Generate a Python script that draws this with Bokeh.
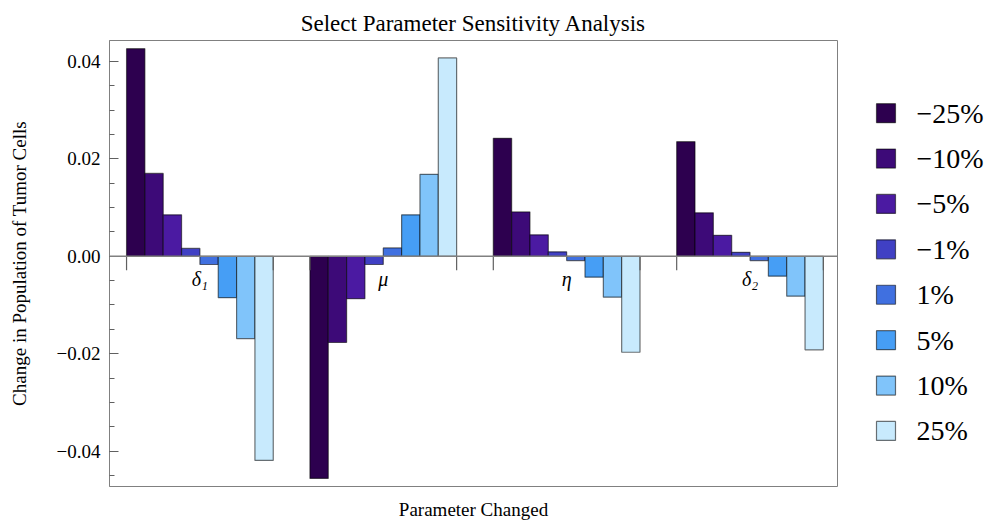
from bokeh.plotting import figure
from bokeh.models import ColumnDataSource, FixedTicker, Range1d, Span
from bokeh.layouts import row
from bokeh.core.properties import value
from bokeh.embed import file_html
from bokeh.resources import INLINE

# ---- data ----
params = ["δ₁", "μ", "η", "δ₂"]
changes = ["−25%", "−10%", "−5%", "−1%", "1%", "5%", "10%", "25%"]
m25 = [0.0426, -0.0456, 0.0242, 0.0235]
m10 = [0.0170, -0.0177, 0.0091, 0.0089]
m5 = [0.0085, -0.0087, 0.0044, 0.0043]
m1 = [0.0016, -0.0017, 0.0009, 0.0008]
p1 = [-0.0017, 0.0017, -0.0009, -0.0009]
p5 = [-0.0085, 0.0085, -0.0043, -0.0041]
p10 = [-0.0169, 0.0168, -0.0084, -0.0082]
p25 = [-0.0419, 0.0407, -0.0197, -0.0192]
series = [m25, m10, m5, m1, p1, p5, p10, p25]
colors = ["#2d004f", "#3d0a78", "#4b1aa2", "#4040c4", "#4070e0", "#469ef5", "#80c4fa", "#c8eafd"]
y_ticks = [-0.04, -0.02, 0.0, 0.02, 0.04]
y_tick_labels = ["−0.04", "−0.02", "0.00", "0.02", "0.04"]

FONT = "Liberation Serif"
n_ser = len(series)
spacing = n_ser + 2
W, H = 987, 522
W1 = 847
TOP, BOTTOM = 40, 488

p = figure(width=W1, height=H, output_backend="svg", toolbar_location=None,
           x_range=Range1d(-0.93, (len(params) - 1) * spacing + n_ser + 0.77),
           y_range=Range1d(-0.04725, 0.04427),
           min_border_left=109, min_border_right=W1 - 837, min_border_top=TOP,
           min_border_bottom=H - BOTTOM,
           title="Select Parameter Sensitivity Analysis")
p.title.align = "center"
p.title.text_font = FONT
p.title.text_font_size = "23px"
p.title.text_font_style = "normal"
p.title.text_color = "black"

p.grid.visible = False
p.outline_line_color = "#808080"
p.outline_line_width = 1

# zero line
p.add_layout(Span(location=0, dimension="width", line_color="#808080", line_width=1.5))

for i, (vals, col) in enumerate(zip(series, colors)):
    xs = [spacing * g + i + 0.5 for g in range(len(params))]
    src = ColumnDataSource(dict(x=xs, top=vals))
    p.vbar(x="x", top="top", bottom=0, width=1.0, source=src,
           fill_color=col, line_color="black", line_alpha=0.55, line_width=1.2)

# group edge ticks at zero line
edges = []
for g in range(len(params)):
    edges += [spacing * g, spacing * g + n_ser]
p.segment(x0=edges, x1=edges, y0=[0] * len(edges), y1=[-0.00285] * len(edges),
          line_color="#606060", line_width=1.2)

# category labels
p.text(x=[spacing * g + n_ser / 2 for g in range(len(params))], y=[0] * len(params),
       text=params, text_font=value(FONT), text_font_size="20px", text_font_style="italic",
       text_align="center", text_baseline="alphabetic", y_offset=23, text_color="black")

# y axis
ya = p.yaxis[0]
ya.ticker = FixedTicker(ticks=y_ticks,
                        minor_ticks=[round(-0.045 + 0.005 * k, 4) for k in range(19)])
ya.major_label_overrides = {t: l for t, l in zip(y_ticks, y_tick_labels)}
ya.major_label_text_font = FONT
ya.major_label_text_font_size = "19px"
ya.major_label_text_color = "black"
ya.major_label_standoff = 9
ya.major_tick_in = 9
ya.major_tick_out = 0
ya.minor_tick_in = 5
ya.minor_tick_out = 0
ya.major_tick_line_color = "#606060"
ya.minor_tick_line_color = "#606060"
ya.axis_line_color = "#808080"
ya.axis_label = "Change in Population of Tumor Cells"
ya.axis_label_text_font = FONT
ya.axis_label_text_font_size = "19px"
ya.axis_label_text_font_style = "normal"
ya.axis_label_text_color = "black"
ya.axis_label_standoff = 24

# x axis (label only)
xa = p.xaxis[0]
xa.ticker = FixedTicker(ticks=[])
xa.axis_line_color = None
xa.major_tick_line_color = None
xa.minor_tick_line_color = None
xa.major_tick_in = 0
xa.major_tick_out = 0
xa.major_label_standoff = 0
xa.axis_label = "Parameter Changed"
xa.axis_label_text_font = FONT
xa.axis_label_text_font_size = "19px"
xa.axis_label_text_font_style = "normal"
xa.axis_label_text_color = "black"
xa.axis_label_standoff = 12

# legend panel (its frame is aligned with the main frame, TOP..BOTTOM)
W2 = W - W1
lg = figure(width=W2, height=H, output_backend="svg", toolbar_location=None,
            x_range=Range1d(0, W2), y_range=Range1d(BOTTOM, TOP),
            min_border=0, min_border_top=TOP, min_border_bottom=H - BOTTOM,
            x_axis_location=None, y_axis_location=None)
lg.grid.visible = False
lg.outline_line_color = None
row_y = [113 + 45.6 * k for k in range(len(changes))]
lg.rect(x=[38.5] * len(changes), y=row_y, width=19, height=19,
        width_units="screen", height_units="screen",
        fill_color=colors, line_color="black", line_alpha=0.55, line_width=1.2)
lg.text(x=[69] * len(changes), y=row_y, text=changes, text_font=value(FONT),
        text_font_size="28px", text_baseline="middle", text_align="left", text_color="black")

layout = row(p, lg)
open("out.html", "w").write(file_html(layout, INLINE))
